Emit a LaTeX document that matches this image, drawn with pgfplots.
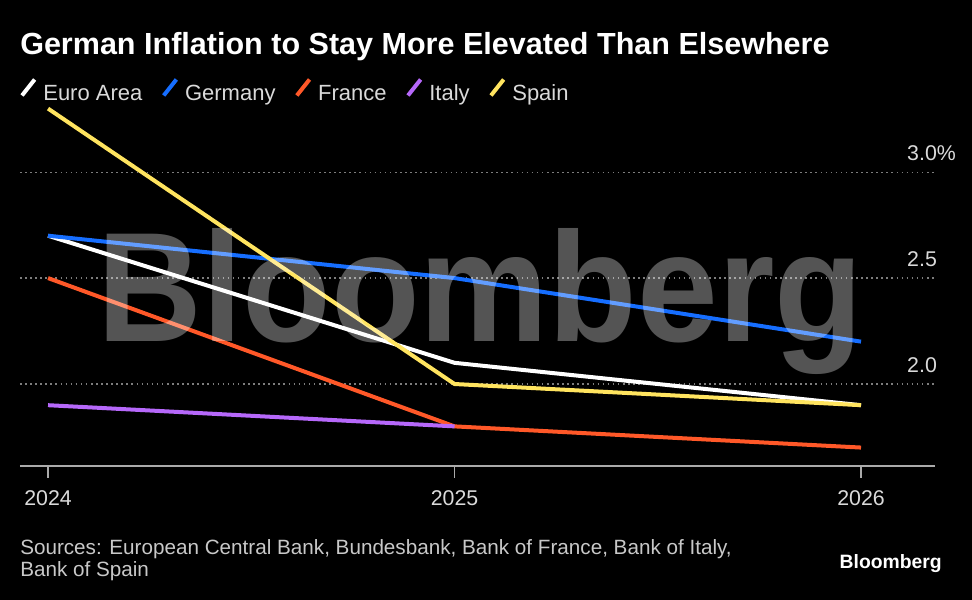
\documentclass[border=0pt]{standalone}
\usepackage{fontspec}
\setmainfont{Liberation Sans}
\usepackage{pgfplots}
\pgfplotsset{compat=1.18}
\usepackage{graphicx}

\definecolor{eurocol}{RGB}{255,255,255}
\definecolor{germcol}{RGB}{22,110,255}
\definecolor{fracol}{RGB}{255,88,40}
\definecolor{itacol}{RGB}{182,104,250}
\definecolor{spacol}{RGB}{255,228,95}
\definecolor{labelgray}{RGB}{218,218,218}
\definecolor{srcgray}{RGB}{200,200,200}
\definecolor{axisgray}{RGB}{170,170,170}
\definecolor{gridgray}{RGB}{125,125,125}

\begin{document}
\begin{tikzpicture}
\fill[black] (0,0) rectangle (729pt,450pt);
\useasboundingbox (0,0) rectangle (729pt,450pt);

\node[anchor=base west, inner sep=0pt, text=white, font=\bfseries\fontsize{22.9}{26}\selectfont]
  at (15pt,408.75pt) {German Inflation to Stay More Elevated Than Elsewhere};

\begin{axis}[
  at={(15pt,100.5pt)}, anchor=south west,
  scale only axis, width=686.25pt, height=276pt,
  xmin=2023.931, xmax=2026.182,
  ymin=1.613, ymax=3.35,
  clip=false, no marks,
  axis x line*=bottom, axis y line*=right,
  x axis line style={draw=axisgray, line width=1.1pt, -},
  y axis line style={draw=none},
  xtick={2024,2025,2026},
  xticklabels={2024,2025,2026},
  ytick={2.0,2.5,3.0},
  yticklabels={2.0,2.5,3.0\%},
  tick align=outside,
  major tick length=9pt,
  xtick style={draw=axisgray, line width=1.1pt},
  ytick style={draw=none},
  x tick label style={anchor=base, inner sep=0pt, yshift=-21pt,
    text=labelgray, font=\fontsize{16}{18}\selectfont},
  y tick label style={anchor=base west, inner sep=0pt, xshift=-30pt, yshift=9pt,
    text=labelgray, font=\fontsize{16}{18}\selectfont},
  ymajorgrids,
  major grid style={draw=gridgray, line width=0.9pt, dash pattern=on 1.2pt off 2.6pt},
  legend columns=-1,
  legend style={at={(0,1.0218)}, anchor=west, draw=none, fill=none,
    inner sep=0pt, outer sep=0pt, text=labelgray,
    font=\fontsize{16.5}{18}\selectfont,
    nodes={inner sep=0pt},
    /tikz/every odd column/.style={column sep=5pt},
    /tikz/every even column/.style={column sep=14.5pt}},
  legend image code/.code={\draw[#1, line width=3pt] (0pt,-1.5pt) -- (9.5pt,10.5pt);},
]
\addplot[draw=eurocol, line width=3pt] coordinates {(2024,2.7) (2025,2.1) (2026,1.9)};
\addplot[draw=germcol, line width=3pt] coordinates {(2024,2.7) (2025,2.5) (2026,2.2)};
\addplot[draw=fracol, line width=3pt] coordinates {(2024,2.5) (2025,1.8) (2026,1.7)};
\addplot[draw=itacol, line width=3pt] coordinates {(2024,1.9) (2025,1.8)};
\addplot[draw=spacol, line width=3pt] coordinates {(2024,3.3) (2025,2.0) (2026,1.9)};
\legend{Euro Area, Germany, France, Italy, Spain}
\end{axis}

% watermark laid over the lines
\node[anchor=base west, inner sep=0pt, text=white, text opacity=0.33,
  font=\bfseries\fontsize{117}{120}\selectfont]
  at (73pt,193.5pt) {\scalebox{0.93}[1]{Bloomberg}};

\node[anchor=base west, inner sep=0pt, text=srcgray, font=\fontsize{15.5}{17}\selectfont]
  at (15pt,33.75pt) {Sources: European Central Bank, Bundesbank, Bank of France, Bank of Italy,};
\node[anchor=base west, inner sep=0pt, text=srcgray, font=\fontsize{15.5}{17}\selectfont]
  at (15pt,17.25pt) {Bank of Spain};
\node[anchor=base east, inner sep=0pt, text=white, font=\bfseries\fontsize{14.5}{16}\selectfont]
  at (706.5pt,23.25pt) {Bloomberg};
\end{tikzpicture}
\end{document}
